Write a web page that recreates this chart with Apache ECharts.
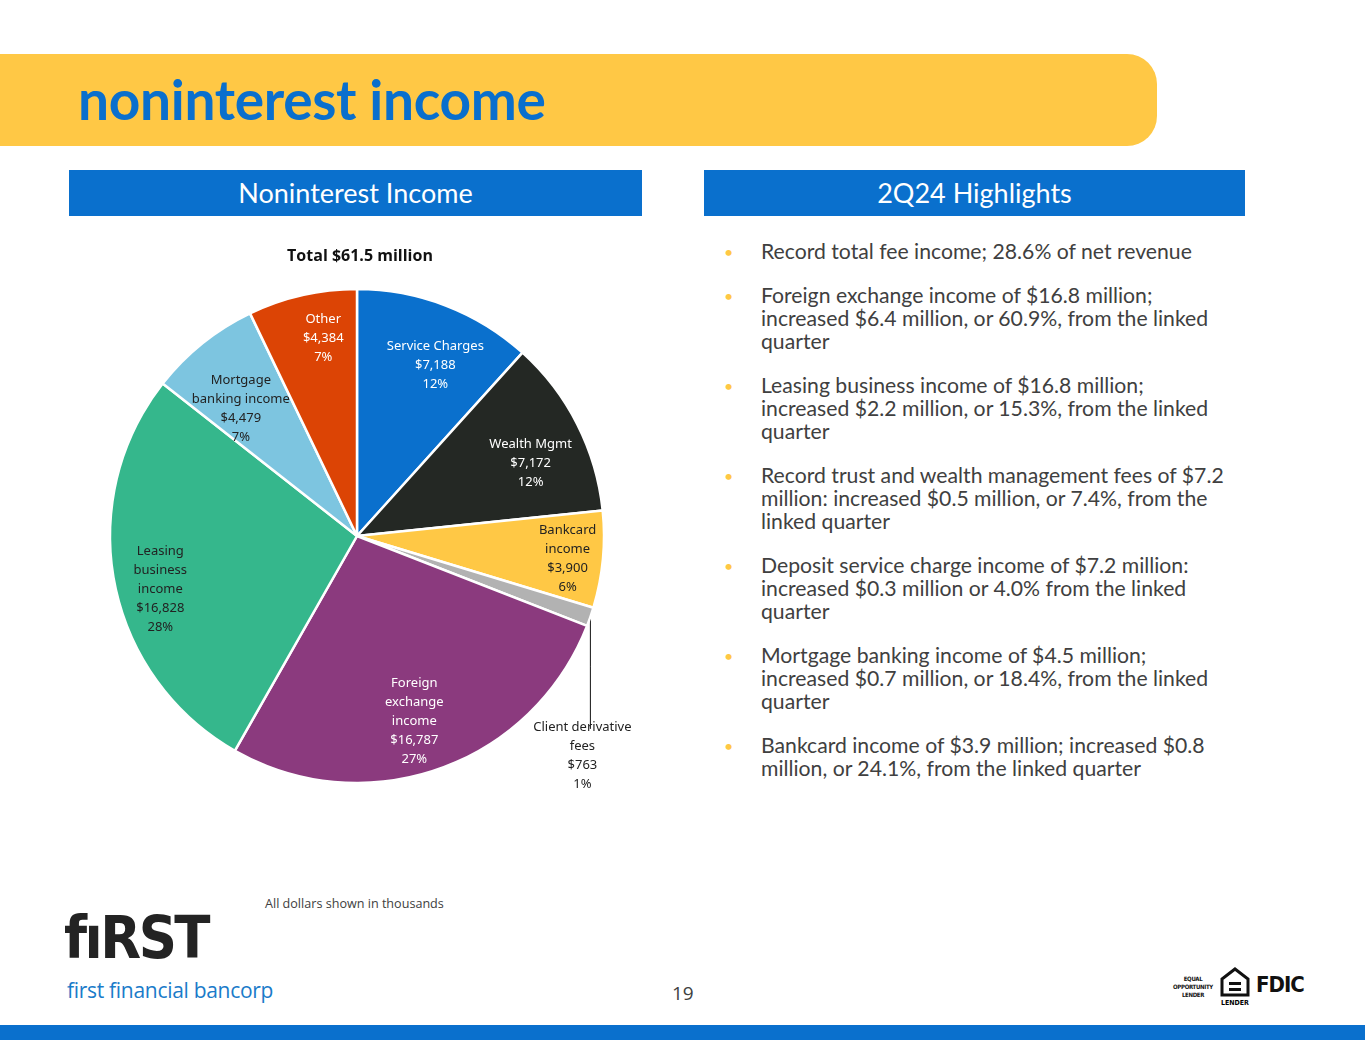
<!doctype html>
<html lang="en">
<head>
    <meta charset="UTF-8">
    <title>noninterest income</title>
    <script src="https://cdn.jsdelivr.net/npm/echarts@6/dist/echarts.min.js"></script>
    <style>
        body { margin: 0; width: 1365px; height: 1055px; position: relative; background: #fff; overflow: hidden;
               font-family: Lato, "Noto Sans", sans-serif; }
        .banner { position: absolute; left: 0; top: 54px; width: 1157px; height: 92px; background: #FFC845;
                  border-radius: 0 30px 30px 0; }
        .banner h1 { margin: 0; position: absolute; left: 78px; top: 12px; font-size: 55px; font-weight: 700;
                     color: #0A6FCD; letter-spacing: -0.3px; }
        .hdr { position: absolute; top: 170px; height: 46px; line-height: 45px; background: #0A70CD; color: #fff;
               font-size: 27px; text-align: center; }
        ul.hl { position: absolute; left: 724px; top: 240px; width: 520px; margin: 0; padding: 0; list-style: none;
                color: #404040; font-size: 21.2px; line-height: 23px; }
        ul.hl li { position: relative; padding-left: 37px; margin-bottom: 21px; }
        ul.hl li:before { content: "\2022"; position: absolute; left: 0; top: 0; color: #FFC845; font-size: 16px; }
        .note { position: absolute; left: 265px; top: 895px; font-size: 12.6px; color: #404040; font-family: "Open Sans", sans-serif; }
        .logo { position: absolute; left: 64px; top: 906px; font-family: "DejaVu Sans Condensed", "DejaVu Sans"; font-weight: 700;
                font-size: 59px; color: #232323; letter-spacing: -2.5px; line-height: 64px; }
        .bank { position: absolute; left: 67px; top: 976px; font-size: 21px; color: #1A7BC9; font-family: "Open Sans", sans-serif; letter-spacing: -0.3px; }
        .page { position: absolute; left: 672px; top: 980px; font-size: 19px; color: #404040; font-family: "Open Sans", sans-serif; }
        .eol { position: absolute; left: 1168px; top: 975px; width: 50px; font-size: 6px; line-height: 8px; font-weight: 700; text-align: center;
               font-family: "DejaVu Sans Condensed", sans-serif; color: #111; letter-spacing: -0.3px; }
        .fdic { position: absolute; left: 1256px; top: 972px; font-size: 22px; font-weight: 700; color: #111;
                font-family: "DejaVu Sans Condensed", sans-serif; letter-spacing: -1px; }
        .house { position: absolute; left: 1220px; top: 967px; }
        .bar { position: absolute; left: 0; top: 1025px; width: 1365px; height: 15px; background: #0A70CD; }
        #main { position: absolute; left: 0; top: 230px; width: 720px; height: 600px; }
    </style>
</head>
<body>
<div class="banner"><h1>noninterest income</h1></div>
<div class="hdr" style="left:69px;width:573px;">Noninterest Income</div>
<div class="hdr" style="left:704px;width:541px;">2Q24 Highlights</div>

<div id="main"></div>

<ul class="hl">
    <li>Record total fee income; 28.6% of net revenue</li>
    <li>Foreign exchange income of $16.8 million;<br>increased $6.4 million, or 60.9%, from the linked<br>quarter</li>
    <li>Leasing business income of $16.8 million;<br>increased $2.2 million, or 15.3%, from the linked<br>quarter</li>
    <li>Record trust and wealth management fees of $7.2<br>million: increased $0.5 million, or 7.4%, from the<br>linked quarter</li>
    <li>Deposit service charge income of $7.2 million:<br>increased $0.3 million or 4.0% from the linked<br>quarter</li>
    <li>Mortgage banking income of $4.5 million;<br>increased $0.7 million, or 18.4%, from the linked<br>quarter</li>
    <li>Bankcard income of $3.9 million; increased $0.8<br>million, or 24.1%, from the linked quarter</li>
</ul>

<div class="note">All dollars shown in thousands</div>
<div class="logo">fıRST</div>
<div class="bank">first financial bancorp</div>
<div class="page">19</div>
<div class="eol">EQUAL<br>OPPORTUNITY<br>LENDER</div>
<svg class="house" width="30" height="40" viewBox="0 0 30 40">
    <path d="M15 2 L28 12 L28 28 L2 28 L2 12 Z" fill="none" stroke="#111" stroke-width="3"/>
    <rect x="9" y="15" width="12" height="3" fill="#111"/>
    <rect x="9" y="21" width="12" height="3" fill="#111"/>
    <text x="15" y="38" font-size="7" font-weight="700" text-anchor="middle" font-family="DejaVu Sans Condensed">LENDER</text>
</svg>
<div class="fdic">FDIC</div>
<div class="bar"></div>

<script type="text/javascript">
    // 数据（单位：千美元）
    var categories = ['Service Charges', 'Wealth Mgmt', 'Bankcard\nincome', 'Client derivative\nfees',
        'Foreign\nexchange\nincome', 'Leasing\nbusiness\nincome', 'Mortgage\nbanking income', 'Other'];
    var values = [7188, 7172, 3900, 763, 16787, 16828, 4479, 4384];
    var colors = ['#0A70CD', '#242824', '#FFC845', '#B2B2B2', '#8B3A7E', '#35B78C', '#7DC5E0', '#DC4405'];
    var labelColors = ['#fff', '#fff', '#222', '#222', '#fff', '#222', '#222', '#fff'];
    var totalText = 'Total $61.5 million';

    var myChart = echarts.init(document.getElementById('main'));

    var pieData = [], ringData = [];
    for (var i = 0; i < values.length; i++) {
        pieData.push({value: values[i], name: categories[i], itemStyle: {color: colors[i]}});
        ringData.push({
            value: values[i], name: categories[i],
            label: {color: labelColors[i], position: i === 3 ? 'outside' : 'inside', overflow: 'none'},
            labelLine: {show: i === 3}
        });
    }

    // 标签微调（像素）
    var nudge = [[6, 17], [-6, 19], [10, 4], [0, 0], [-10, -5], [1, 14], [10, 30], [11, -1]];

    function fmt(p) {
        return p.name + '\n$' + p.value.toLocaleString('en-US') + '\n' + p.percent + '%';
    }

    var option = {
        animation: false,
        title: {
            text: totalText,
            left: 'center',
            top: 13,
            textStyle: {fontFamily: 'Open Sans', fontSize: 16, fontWeight: 'bold', color: '#111'}
        },
        series: [
            {
                type: 'pie',
                center: [357, 306],
                radius: [0, 247],
                startAngle: 90,
                clockwise: true,
                silent: true,
                label: {show: false},
                labelLine: {show: false},
                itemStyle: {borderColor: '#fff', borderWidth: 2.5},
                data: pieData
            },
            {
                // 透明外环，只用来放标签
                type: 'pie',
                center: [357, 306],
                radius: [150, 247],
                startAngle: 90,
                clockwise: true,
                silent: true,
                percentPrecision: 0,
                itemStyle: {color: 'rgba(0,0,0,0)'},
                label: {
                    show: true,
                    formatter: fmt,
                    fontFamily: 'Noto Sans',
                    fontSize: 13,
                    lineHeight: 19
                },
                labelLine: {lineStyle: {color: '#111', width: 1}},
                labelLayout: function (params) {
                    var i = params.dataIndex;
                    if (i !== 3) return {dx: nudge[i][0], dy: nudge[i][1]};
                    if (!params.labelLinePoints) return {};
                    var p = params.labelLinePoints[0];
                    return {
                        x: p[0] - 8,
                        y: p[1] + 101,
                        align: 'center',
                        verticalAlign: 'top',
                        labelLinePoints: [p, [p[0], p[1] + 50], [p[0], p[1] + 112]]
                    };
                },
                data: ringData
            }
        ]
    };

    myChart.setOption(option);
</script>
</body>
</html>
